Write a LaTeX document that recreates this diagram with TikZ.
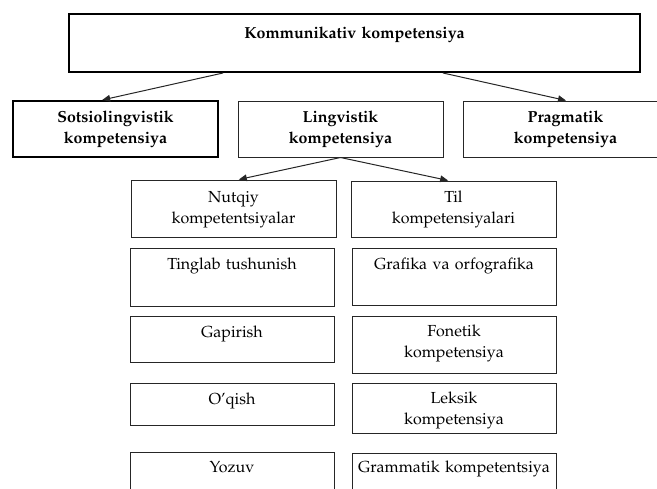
\documentclass[tikz,border=0pt]{standalone}
\usepackage[T1]{fontenc}
\renewcommand{\rmdefault}{ppl}
\usetikzlibrary{arrows.meta,fit}
\tikzset{
  x=0.75pt, y=-0.75pt,
  thickbox/.style={draw=black, line width=1.5pt, inner sep=0pt},
  thinbox/.style={draw=black!85, line width=0.75pt, inner sep=0pt},
  txt/.style={anchor=base, align=center, text width=150pt, inner sep=0pt,
    font=\fontsize{12}{15.75}\selectfont},
  btxt/.style={txt, font=\fontsize{12}{15.75}\selectfont\bfseries},
  arr/.style={draw=black!85, line width=0.75pt, -{Triangle[length=6pt,width=5pt]}}
}
\begin{document}
\begin{tikzpicture}
\path[use as bounding box, clip] (0,0) rectangle (657,489);
% top level
\node[thickbox, fit={(69,14) (640,72)}] (top) {};
\node[btxt, text width=400pt] (topT) at (354.5,38) {Kommunikativ kompetensiya};
% second level
\node[thickbox, fit={(13,101) (218,157)}] (sots) {};
\node[btxt] (sotsT) at (115.5,122) {Sotsiolingvistik\\kompetensiya};
\node[thinbox, fit={(238,101) (443,157)}] (ling) {};
\node[btxt] (lingT) at (340.5,122) {Lingvistik\\kompetensiya};
\node[thinbox, fit={(463,101) (700,157)}] (prag) {};
\node[btxt] (pragT) at (565.5,122) {Pragmatik\\kompetensiya};
% third level, left column
\node[thinbox, fit={(131,180) (336,237)}] (nut) {};
\node[txt] (nutT) at (233.5,202) {Nutqiy\\kompetentsiyalar};
\node[thinbox, fit={(130,248) (334,306)}] (ting) {};
\node[txt] (tingT) at (232,269) {Tinglab tushunish};
\node[thinbox, fit={(130,316) (334,362)}] (gap) {};
\node[txt] (gapT) at (232,337) {Gapirish};
\node[thinbox, fit={(130,383) (334,425)}] (oqi) {};
\node[txt] (oqiT) at (232,404) {O'qish};
\node[thinbox, fit={(130,452) (334,520)}] (yoz) {};
\node[txt] (yozT) at (232,472) {Yozuv};
% third level, right column
\node[thinbox, fit={(351,181) (556,237)}] (til) {};
\node[txt] (tilT) at (453.5,202) {Til\\kompetensiyalari};
\node[thinbox, fit={(352,248) (556,305)}] (graf) {};
\node[txt] (grafT) at (454,269) {Grafika va orfografika};
\node[thinbox, fit={(352,316) (556,373)}] (fon) {};
\node[txt] (fonT) at (454,336) {Fonetik\\kompetensiya};
\node[thinbox, fit={(352,383) (556,433)}] (lek) {};
\node[txt] (lekT) at (454,403) {Leksik\\kompetensiya};
\node[thinbox, fit={(352,453) (556,520)}] (gram) {};
\node[txt] (gramT) at (454,472) {Grammatik kompetentsiya};
% connectors
\draw[arr] ([xshift=-98.6pt]top.south) -- ([xshift=-10pt]sots.north);
\draw[arr] ([xshift=66.4pt]top.south) -- ([xshift=-11.6pt]prag.north);
\draw[arr] (ling.south) -- ([xshift=4pt]nut.north);
\draw[arr] (ling.south) -- ([xshift=-4pt]til.north);
\end{tikzpicture}
\end{document}
